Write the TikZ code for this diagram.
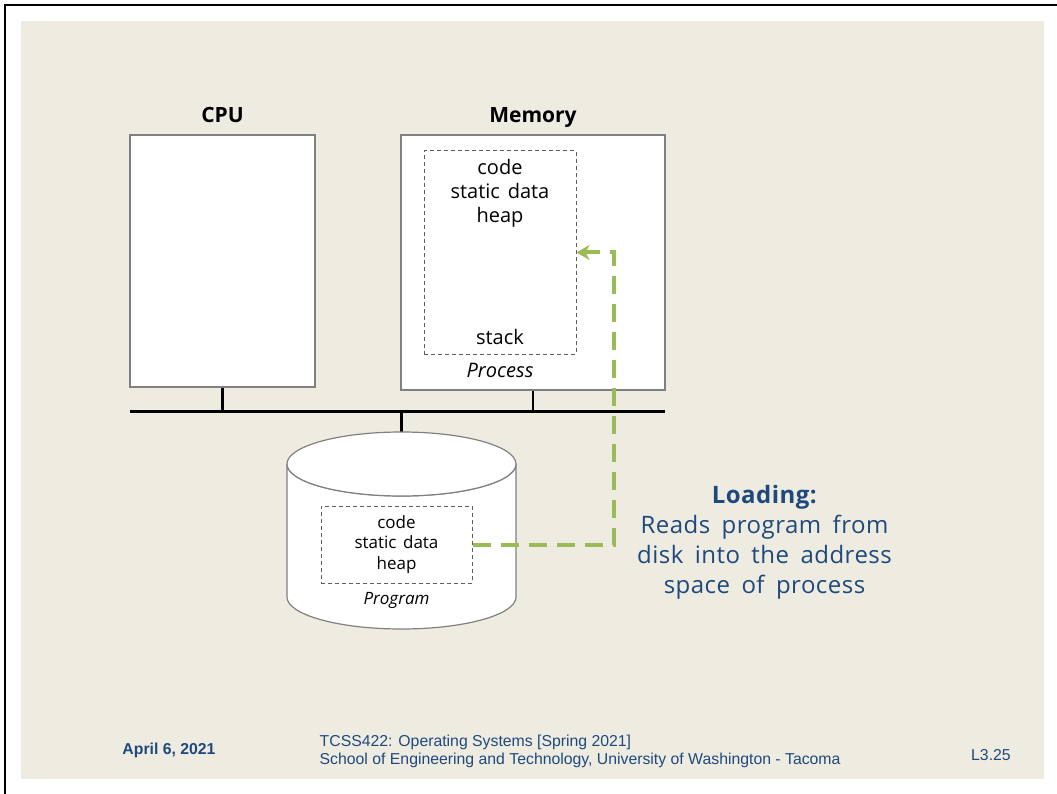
\documentclass[tikz,border=0pt]{standalone}
\usepackage{fontspec}
\setmainfont{Open Sans}
\newfontfamily\footfont{Liberation Sans}
\newfontfamily\segfont{Open Sans}[WordSpace=1.5]
\newfontfamily\loadfont{Open Sans}[LetterSpace=2, WordSpace=1.7]
\usetikzlibrary{arrows.meta,positioning}
\definecolor{slidebg}{HTML}{EEECE1}
\definecolor{textblue}{HTML}{1F497D}
\definecolor{loadgreen}{HTML}{9BBB59}
\definecolor{boxedge}{RGB}{128,128,128}
\definecolor{segedge}{RGB}{95,95,95}
\tikzset{
  hwbox/.style    = {rectangle, draw=boxedge, fill=white, line width=1.5pt,
                     inner sep=0pt},
  hwlabel/.style  = {inner sep=0pt, font=\fontsize{21}{25}\selectfont\bfseries},
  segbox/.style   = {rectangle, draw=segedge, line width=1pt,
                     dash pattern=on 4pt off 3pt, inner sep=0pt, align=center},
  segtext/.style  = {inner sep=0pt, align=center, font=\segfont\fontsize{20}{24}\selectfont},
  progtext/.style = {font=\segfont\fontsize{17}{20.5}\selectfont},
  busline/.style  = {line width=3pt, black},
  stub/.style     = {line width=2.5pt, black},
  diskedge/.style = {draw=boxedge, fill=white, line width=1.2pt},
  loadarr/.style  = {-{Stealth[length=13pt, width=15pt, inset=4pt]}, loadgreen,
                     line width=4pt, dash pattern=on 18pt off 10pt},
  foot/.style     = {inner sep=0pt, text=textblue, font=\footfont\fontsize{15.8}{18}\selectfont},
}

\begin{document}
\begin{tikzpicture}[x=1pt, y=-1pt]
\useasboundingbox (0,0) rectangle (1057,794);

% slide frame
\fill[slidebg] (21,21) rectangle (1044,779);
\draw[line width=2.5pt] (5,794) -- (5,5) -- (1057,5);

% CPU and memory
\node[hwbox, minimum width=185pt, minimum height=252pt] (cpu) at (222.5,261) {};
\node[hwlabel, above=12pt of cpu, anchor=base] (cpulbl) {CPU};

\node[hwbox, minimum width=264pt, minimum height=255pt] (mem) at (533,262.5) {};
\node[hwlabel, above=12pt of mem, anchor=base] (memlbl) {Memory};

% address space of the process
\node[segbox, minimum width=152pt, minimum height=203pt] (seg) at (500,252.5) {};
\node[segtext, below=9pt of seg.north] (segtop) {code\\static data\\heap};
\node[segtext, above=10pt of seg.south] (segstack) {stack};
\node[segtext, below=9pt of seg.south, font=\fontsize{20}{24}\selectfont\itshape] (proclbl) {Process};

% bus
\coordinate (busl) at (130,411);
\coordinate (busr) at (665,411);
\coordinate (disktop) at (401.5,432);
\draw[busline] (busl) -- (busr);
\draw[stub] (cpu.south) -- (cpu.south |- busl);
\draw[stub] (mem.south) -- (mem.south |- busl);
\draw[stub] (disktop |- busl) -- (disktop);

% disk
\draw[diskedge] (287,464) -- (287,597)
   arc[start angle=180, end angle=360, x radius=114.5pt, y radius=32pt]
   -- (516,464)
   arc[start angle=0, end angle=-180, x radius=114.5pt, y radius=32pt] -- cycle;
\draw[diskedge] (401.5,464) ellipse[x radius=114.5pt, y radius=32pt];

\node[segbox, progtext, minimum width=151pt, minimum height=77pt] (prog) at (396.5,544.5)
   {code\\static data\\heap};
\node[inner sep=0pt, below=9pt of prog.south, font=\fontsize{17}{20}\selectfont\itshape] (proglbl) {Program};

% loading path
\coordinate (turn) at (614,252.5);
\draw[loadarr] (prog.east) -| (turn) -- (seg.east);

\node[inner sep=0pt, align=center, text=textblue, anchor=north,
      font=\loadfont\fontsize{24}{30}\selectfont] (loadtxt) at (764.5,485)
   {\textbf{Loading:}\\Reads program from\\disk into the address\\space of process};

% footer
\node[foot, anchor=base, font=\footfont\bfseries\fontsize{15.8}{18}\selectfont] (date) at (169,754) {April 6, 2021};
\node[foot, anchor=north west, align=left] (course) at (319.5,735)
   {TCSS422: Operating Systems [Spring 2021]\\School of Engineering and Technology, University of Washington - Tacoma};
\node[foot, anchor=base west] (slideno) at (971,760) {L3.25};

\end{tikzpicture}
\end{document}
